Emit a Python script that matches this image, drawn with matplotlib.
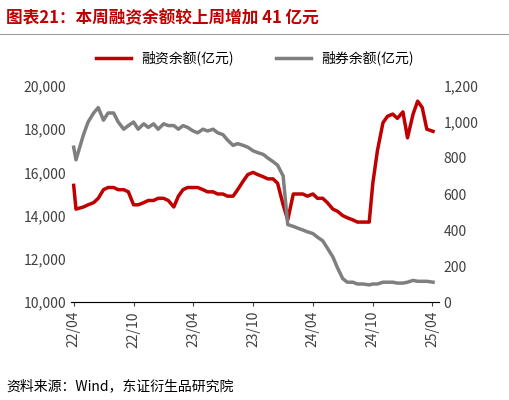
import matplotlib
matplotlib.use("Agg")
import matplotlib.pyplot as plt
import matplotlib.dates as mdates
import pandas as pd

plt.rcParams['font.family'] = ['Noto Sans CJK SC', 'DejaVu Sans']

dates = pd.to_datetime([
 "2022-04-01","2022-04-08","2022-05-01","2022-05-15","2022-06-01","2022-06-15","2022-07-01","2022-07-15",
 "2022-08-01","2022-08-15","2022-09-01","2022-09-15","2022-10-01","2022-10-15","2022-11-01","2022-11-15",
 "2022-12-01","2022-12-15","2023-01-01","2023-01-15","2023-02-01","2023-02-15","2023-03-01","2023-03-15",
 "2023-04-01","2023-04-15","2023-05-01","2023-05-15","2023-06-01","2023-06-15","2023-07-01","2023-07-15",
 "2023-08-01","2023-08-15","2023-09-01","2023-09-15","2023-10-01","2023-10-15","2023-11-01","2023-11-15",
 "2023-12-01","2023-12-15","2024-01-01","2024-01-15","2024-02-01","2024-02-15","2024-03-01","2024-03-15",
 "2024-04-01","2024-04-15","2024-05-01","2024-05-15","2024-06-01","2024-06-15","2024-07-01","2024-07-15",
 "2024-08-01","2024-08-15","2024-09-01","2024-09-20","2024-10-01","2024-10-15","2024-11-01","2024-11-15",
 "2024-12-01","2024-12-15","2025-01-01","2025-01-15","2025-02-01","2025-02-15","2025-03-01","2025-03-15",
 "2025-04-03"])

financing = [15400,14300,14400,14500,14600,14800,15200,15300,15300,15200,15200,15100,14500,14500,14600,14700,
 14700,14800,14800,14700,14400,14900,15200,15300,15300,15300,15200,15100,15100,15000,15000,14900,
 14900,15200,15600,15900,16000,15900,15800,15700,15700,15500,14500,13800,15000,15000,15000,14900,
 15000,14800,14800,14600,14300,14200,14000,13900,13800,13700,13700,13700,15500,17000,18300,18600,
 18700,18500,18800,17600,18700,19300,19000,18000,17900]

lending = [860,790,930,1000,1050,1080,1010,1050,1050,1000,960,980,1000,960,990,970,
 990,960,990,980,980,960,980,970,950,940,960,950,960,940,930,900,
 870,880,870,860,840,830,820,800,780,760,700,430,420,410,400,390,
 380,360,340,300,250,190,130,110,110,100,100,95,100,100,110,110,
 110,105,105,110,120,115,115,115,110]

fig = plt.figure(figsize=(5.1, 4.0), dpi=100)
fig.text(0.012, 0.955, "图表21：本周融资余额较上周增加 41 亿元", color="#C00000",
         fontsize=12, fontweight="bold", va="center")
fig.add_artist(plt.Line2D([0.0, 1.0], [0.915, 0.915], color="#A0A0A0", lw=0.8))
fig.text(0.012, 0.035, "资料来源：Wind，东证衍生品研究院", fontsize=10, va="center")

ax = fig.add_axes([0.14, 0.245, 0.72, 0.54])
ax2 = ax.twinx()
l1, = ax.plot(dates, financing, color="#C00000", lw=2.5, label="融资余额(亿元)")
l2, = ax2.plot(dates, lending, color="#7F7F7F", lw=2.5, label="融券余额(亿元)")
ax.set_ylim(10000, 20000)
ax.set_yticks(range(10000, 20001, 2000))
ax.set_yticklabels([f"{v:,}" for v in range(10000, 20001, 2000)])
ax2.set_ylim(0, 1200)
ax2.set_yticks(range(0, 1201, 200))
ax2.set_yticklabels([f"{v:,}" for v in range(0, 1201, 200)])
ax.set_xlim(pd.Timestamp("2022-03-25"), pd.Timestamp("2025-04-20"))
ticks = pd.to_datetime(["2022-04-01","2022-10-01","2023-04-01","2023-10-01","2024-04-01","2024-10-01","2025-04-01"])
ax.set_xticks(ticks)
ax.xaxis.set_major_formatter(mdates.DateFormatter("%y/%m"))
plt.setp(ax.get_xticklabels(), rotation=90)
for a in (ax, ax2):
    for s in ("top", "right", "left"):
        a.spines[s].set_visible(False)
    a.tick_params(length=0, labelsize=10, colors="#404040")
ax.spines["bottom"].set_color("#808080")
ax.tick_params(axis="x", length=3)
fig.legend(handles=[l1, l2], loc="center", bbox_to_anchor=(0.5, 0.855), ncol=2,
           frameon=False, fontsize=10, handlelength=2.5, columnspacing=3)
fig.savefig("out.png", dpi=100)
